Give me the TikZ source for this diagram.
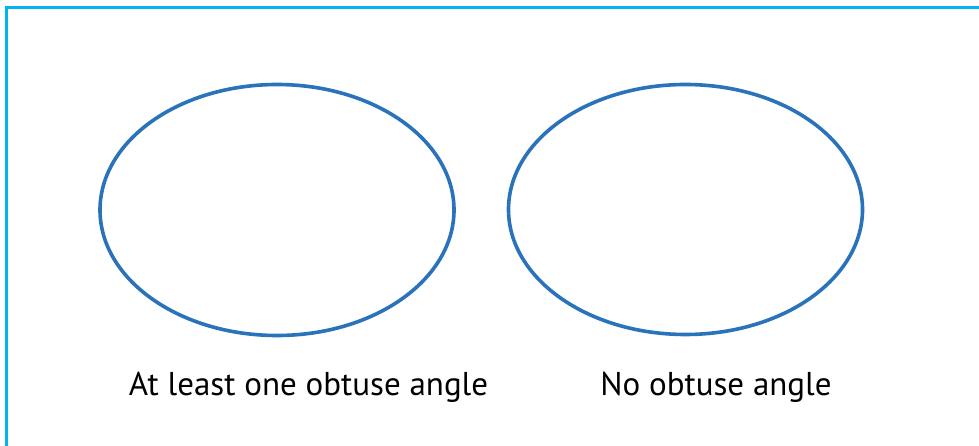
\documentclass[tikz,border=0pt]{standalone}
\usepackage{fontspec}
\setmainfont{PT Sans}
\definecolor{frameblue}{HTML}{00B4EE}
\definecolor{ringblue}{HTML}{2A73BA}
\begin{document}
\begin{tikzpicture}[x=1pt,y=-1pt,
  ring/.style={draw=ringblue,line width=3.6pt},
  lbl/.style={anchor=base,inner sep=0pt,font=\fontsize{33}{38}\selectfont}]
\useasboundingbox (0,0) rectangle (979,446);
\draw[frameblue,line width=3pt] (6.3,460) -- (6.3,7.5) -- (990,7.5);
\draw[ring] (277,210) ellipse [x radius=177, y radius=125.5];
\draw[ring] (685.5,209.5) ellipse [x radius=177, y radius=125];
\node[lbl] (a) at (308.5,395.5) {At least one obtuse angle};
\node[lbl] (b) at (716,395.5) {No obtuse angle};
\end{tikzpicture}
\end{document}
